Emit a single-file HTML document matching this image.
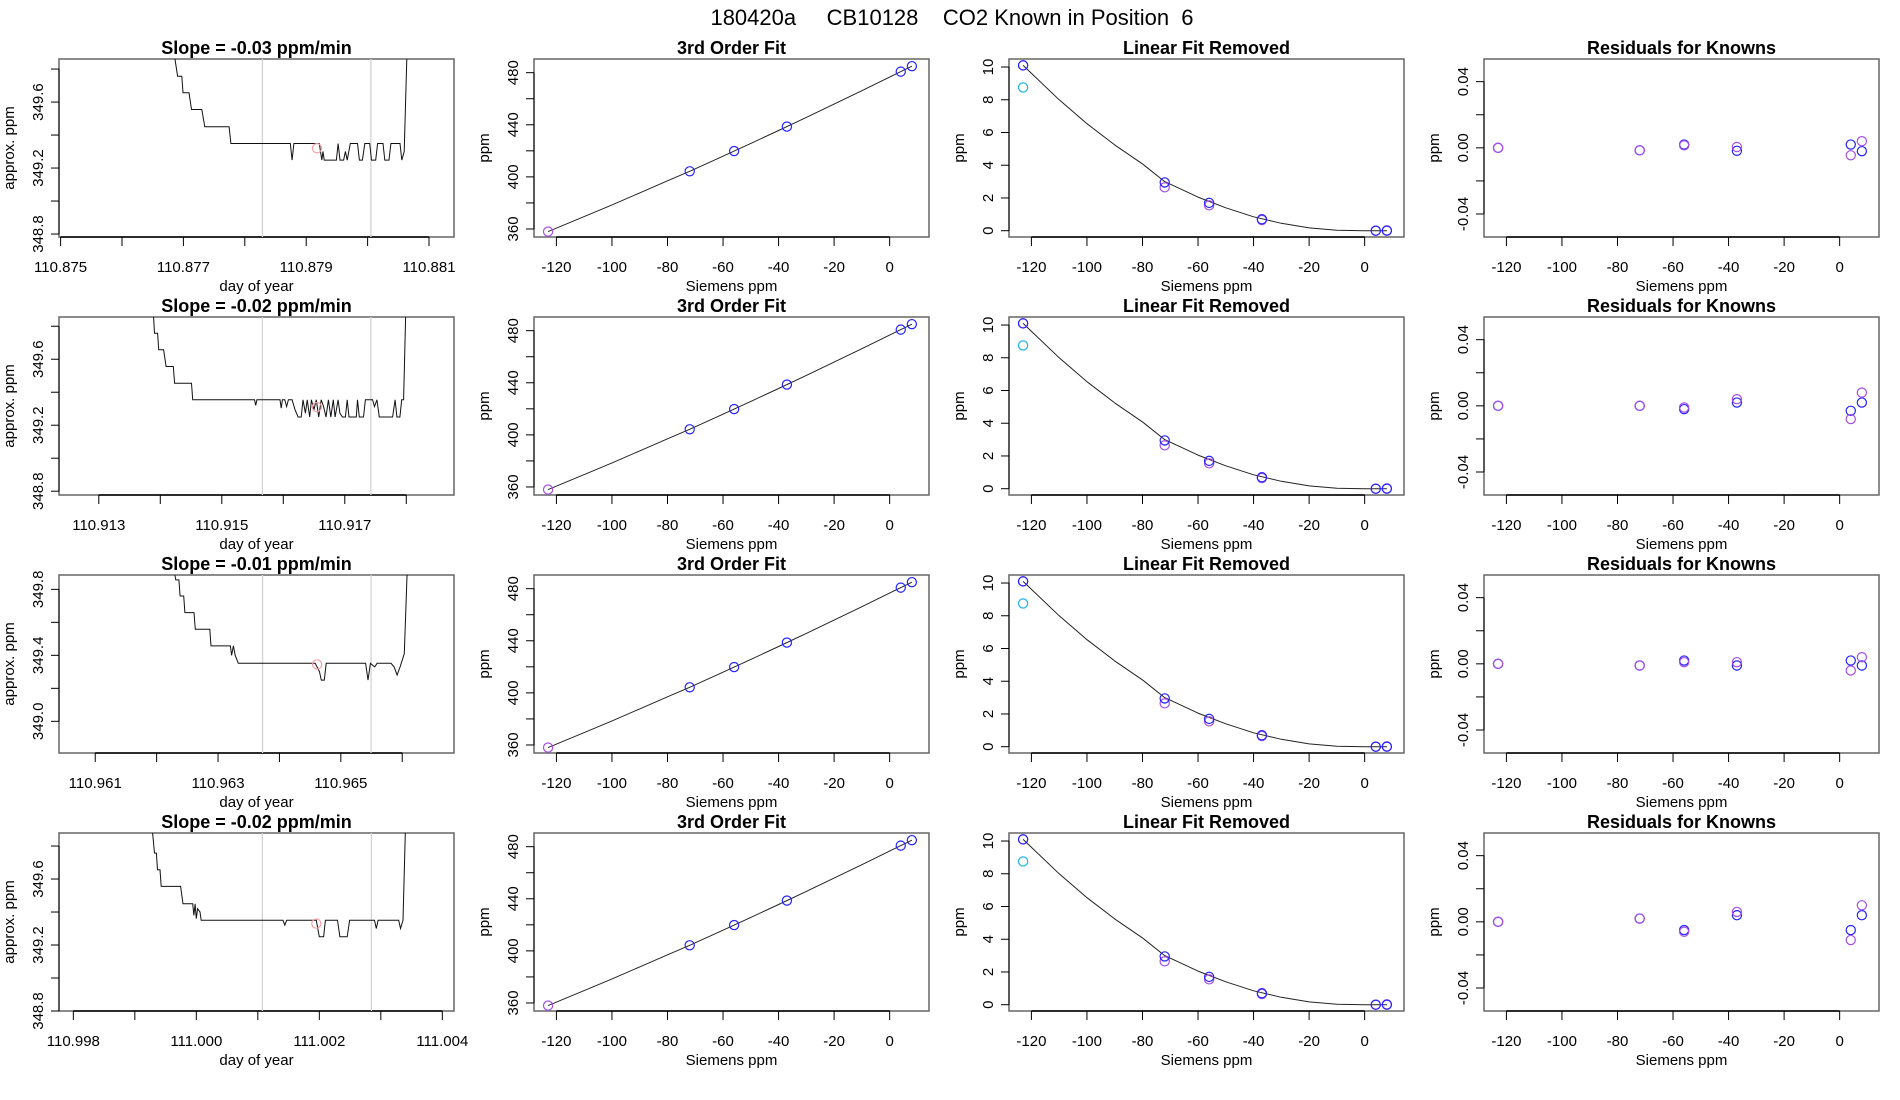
<!DOCTYPE html>
<html><head><meta charset="utf-8"><style>
html,body{margin:0;padding:0;background:#fff;}
svg{display:block;font-family:"Liberation Sans",sans-serif;}
</style></head><body>
<svg id="chart" width="1900" height="1100" viewBox="0 0 1900 1100" xmlns="http://www.w3.org/2000/svg">
<rect x="0" y="0" width="1900" height="1100" fill="#fff"/>
<text x="952" y="25" font-size="22" text-anchor="middle" style="white-space:pre" xml:space="preserve">180420a     CB10128    CO2 Known in Position  6</text>
</svg>
<script>
// ---- data ----
const rowSlopes = ["-0.03", "-0.02", "-0.01", "-0.02"];
const baseDays = [110.875, 110.913, 110.961, 110.998];
const xTickLabels = [
  ["110.875", "", "110.877", "", "110.879", "", "110.881"],
  ["110.913", "", "110.915", "", "110.917", ""],
  ["110.961", "", "110.963", "", "110.965", ""],
  ["110.998", "", "111.000", "", "111.002", "", "111.004"]
];
const yTickVals = [
  [348.8, 349.0, 349.2, 349.4, 349.6, 349.8],
  [348.8, 349.0, 349.2, 349.4, 349.6, 349.8],
  [349.0, 349.2, 349.4, 349.6, 349.8],
  [348.8, 349.0, 349.2, 349.4, 349.6, 349.8]
];
const yTickLabels = [
  ["348.8", "", "349.2", "", "349.6", ""],
  ["348.8", "", "349.2", "", "349.6", ""],
  ["349.0", "", "349.4", "", "349.8"],
  ["348.8", "", "349.2", "", "349.6", ""]
];
// trace time offsets (thousandths of a day after baseDays[row]) and values (ppm)
const traceT1 = [1.826,1.905,1.974,1.994,2.092,2.132,2.300,2.349,2.744,2.773,3.741,3.770,3.800,4.214,4.254,4.274,4.293,4.343,4.491,4.520,4.550,4.609,4.639,4.668,4.718,4.836,4.866,4.915,4.955,5.034,5.063,5.132,5.162,5.251,5.280,5.349,5.379,5.527,5.557,5.596,5.645];
const traceV1 = [349.95,349.757,349.757,349.656,349.656,349.555,349.555,349.45,349.45,349.349,349.349,349.248,349.349,349.349,349.248,349.30,349.248,349.248,349.248,349.349,349.248,349.248,349.30,349.248,349.349,349.349,349.248,349.248,349.349,349.349,349.248,349.248,349.349,349.349,349.248,349.248,349.349,349.349,349.248,349.30,349.95];
const traceT2 = [0.877,0.906,0.956,0.975,1.054,1.094,1.212,1.232,1.507,1.527,2.532,2.552,2.571,2.946,2.966,2.985,3.025,3.054,3.084,3.143,3.192,3.241,3.291,3.320,3.360,3.389,3.429,3.458,3.498,3.537,3.576,3.616,3.655,3.695,3.734,3.773,3.813,3.842,3.892,3.921,3.961,4.010,4.039,4.069,4.187,4.207,4.236,4.305,4.335,4.453,4.483,4.522,4.562,4.778,4.818,4.847,4.897,4.926,4.956,4.995];
const traceV2 = [349.95,349.758,349.758,349.657,349.657,349.556,349.556,349.455,349.455,349.354,349.354,349.32,349.354,349.354,349.303,349.354,349.354,349.313,349.354,349.354,349.293,349.25,349.25,349.354,349.273,349.354,349.25,349.354,349.293,349.354,349.25,349.354,349.313,349.25,349.354,349.25,349.354,349.25,349.354,349.273,349.25,349.25,349.354,349.25,349.25,349.354,349.25,349.25,349.354,349.354,349.313,349.354,349.25,349.25,349.354,349.25,349.25,349.354,349.354,349.95];
const traceT3 = [1.264,1.313,1.362,1.382,1.441,1.461,1.609,1.629,1.866,1.886,2.201,2.221,2.251,2.280,2.330,3.583,3.652,3.682,3.731,3.761,4.403,4.443,4.482,4.551,4.591,4.817,4.867,4.916,4.965,5.034,5.084];
const traceV3 = [349.95,349.857,349.857,349.76,349.76,349.659,349.659,349.558,349.558,349.457,349.457,349.40,349.457,349.40,349.352,349.352,349.30,349.25,349.25,349.352,349.352,349.25,349.352,349.33,349.352,349.352,349.33,349.28,349.33,349.41,349.95];
const traceT4 = [1.271,1.320,1.350,1.369,1.409,1.429,1.744,1.783,1.941,1.961,1.980,2.000,2.020,2.059,2.079,3.409,3.438,3.468,3.951,4.000,4.069,4.099,4.296,4.335,4.453,4.493,4.897,4.926,4.956,5.291,5.320,5.360,5.399];
const traceV4 = [349.95,349.757,349.757,349.656,349.656,349.555,349.555,349.45,349.45,349.38,349.45,349.36,349.42,349.40,349.35,349.35,349.32,349.35,349.35,349.25,349.25,349.35,349.35,349.25,349.25,349.35,349.35,349.30,349.35,349.35,349.30,349.35,349.9];
const grayLinesT = [[3.287, 5.053], [2.660, 4.424], [2.725, 4.492], [3.074, 4.847]];
const redPtT = [4.175, 3.547, 3.613, 3.951];
const redPtV = [349.32, 349.31, 349.345, 349.33];
// fit panels
const knownX = [-123, -72, -56, -37, 4, 8];
const knownPpm = [358.0, 404.3, 419.8, 438.6, 480.8, 485.0];
const curveX = [-123,-110,-100,-90,-80,-72,-60,-50,-40,-30,-20,-10,0,8];
const fitCurve = [358.0,369.5,378.51,387.68,396.98,404.28,415.89,425.7,435.62,445.69,455.87,466.2,476.63,485.0];
const linRemCurve = [10.1,8.0,6.54,5.24,4.08,3.0,2.05,1.4,0.85,0.45,0.17,0.03,0,0];
const linRemBlue = [10.1, 2.95, 1.7, 0.7, 0.0, 0.0];
const linRemPurple = [10.1, 2.65, 1.55, 0.65, 0.0, 0.02];
const linRemCyan = [8.75];
const residBlue = [
  [0, -0.0015, 0.002, -0.0018, 0.002, -0.002],
  [0, 0.0, -0.002, 0.002, -0.003, 0.002],
  [0, -0.001, 0.002, -0.001, 0.002, -0.001],
  [0, 0.002, -0.005, 0.004, -0.005, 0.004]
];
const residPurple = [
  [0, -0.0015, 0.0015, 0.0005, -0.0045, 0.004],
  [0, 0.0, -0.001, 0.004, -0.008, 0.008],
  [0, -0.001, 0.001, 0.001, -0.004, 0.004],
  [0, 0.002, -0.006, 0.006, -0.011, 0.010]
];
const sieTicks = [-120, -100, -80, -60, -40, -20, 0];
const ppmTicks = [360, 380, 400, 420, 440, 460, 480];
const ppmTickLabels = ["360", "", "400", "", "440", "", "480"];
const linTicks = [0, 2, 4, 6, 8, 10];
const resTicks = [-0.04, -0.02, 0.0, 0.02, 0.04];
const resTickLabels = ["-0.04", "", "0.00", "", "0.04"];

// ---- layout ----
const svg = document.getElementById('chart');
const NS = 'http://www.w3.org/2000/svg';
const rowTops = [59, 317, 575, 833];
const colLefts = [59, 534, 1009, 1484];
const PW = 395, PH = 178;
const xDomTS = [[-0.026, 6.407], [-0.647, 5.776], [-0.590, 5.843], [-0.233, 6.190]];
const yDomTS = [[348.782, 349.861], [348.777, 349.856], [348.808, 349.887], [348.80, 349.879]];
const traceT = [traceT1, traceT2, traceT3, traceT4];
const traceV = [traceV1, traceV2, traceV3, traceV4];
const BLUE = '#2222ff', PURPLE = '#a64ee8', CYAN = '#1eb4ee';

function el(tag, attrs, parent) {
  const e = document.createElementNS(NS, tag);
  for (const k in attrs) e.setAttribute(k, attrs[k]);
  (parent || svg).appendChild(e);
  return e;
}
function scale(d0, d1, r0, r1) { return v => r0 + (v - d0) / (d1 - d0) * (r1 - r0); }

function txt(x, y, s, size, parent, opts) {
  const t = el('text', Object.assign({x: x, y: y, 'font-size': size, 'text-anchor': 'middle'}, opts || {}), parent);
  t.textContent = s;
  return t;
}

function panel(r, c, title, xlab, ylab) {
  const g = el('g', {});
  
  
  const L = colLefts[c], T = rowTops[r];
  const cp = el('clipPath', {id: 'cp' + r + c}, g);
  el('rect', {x: L, y: T, width: PW, height: PH}, cp);
  const box = el('rect', {x: L, y: T, width: PW, height: PH, fill: 'none', stroke: '#666', 'stroke-width': 1.5}, g);
  
  
  const tt = txt(L + PW / 2, T - 5, title, 18, g, {'font-weight': 'bold'});
  
  
  const xl = txt(L + PW / 2, T + PH + 54, xlab, 15, g);
  
  
  const yl = txt(0, 0, ylab, 15, g, {transform: 'translate(' + (L - 45) + ',' + (T + PH / 2) + ') rotate(-90)'});
  
  
  return {g: g, L: L, T: T, clip: 'url(#cp' + r + c + ')'};
}

function xAxis(p, ticks, labels, sx) {
  const g = el('g', {}, p.g);
  
  
  const y = p.T + PH;
  el('line', {x1: sx(ticks[0]), x2: sx(ticks[ticks.length - 1]), y1: y, y2: y, stroke: '#000', 'stroke-width': 1.5}, g);
  ticks.forEach((v, i) => {
    const x = sx(v);
    el('line', {x1: x, x2: x, y1: y, y2: y + 9, stroke: '#000', 'stroke-width': 1}, g);
    if (labels[i]) {
      const t = txt(x, y + 35, labels[i], 15, g);
      
      
    }
  });
}
function yAxis(p, ticks, labels, sy) {
  const g = el('g', {}, p.g);
  
  
  const x = p.L;
  el('line', {x1: x, x2: x, y1: sy(ticks[0]), y2: sy(ticks[ticks.length - 1]), stroke: '#000', 'stroke-width': 1}, g);
  ticks.forEach((v, i) => {
    const y = sy(v);
    el('line', {x1: x - 8, x2: x, y1: y, y2: y, stroke: '#000', 'stroke-width': 1}, g);
    if (labels[i]) {
      const t = txt(0, 0, labels[i], 15, g, {transform: 'translate(' + (x - 16) + ',' + y + ') rotate(-90)'});
      
      
    }
  });
}
function circle(parent, x, y, col, name) {
  const c = el('circle', {cx: x, cy: y, r: 4.6, fill: 'none', stroke: col, 'stroke-width': 1.2}, parent);
  
  
}

for (let r = 0; r < 4; r++) {
  // time series panel
  let p = panel(r, 0, 'Slope =  ' + rowSlopes[r] + '  ppm/min', 'day of year', 'approx. ppm');
  let sx = scale(xDomTS[r][0], xDomTS[r][1], p.L, p.L + PW);
  let sy = scale(yDomTS[r][0], yDomTS[r][1], p.T + PH, p.T);
  xAxis(p, xTickLabels[r].map((_, i) => i), xTickLabels[r], sx);
  yAxis(p, yTickVals[r], yTickLabels[r], sy);
  grayLinesT[r].forEach(t => {
    const gl = el('line', {x1: sx(t), x2: sx(t), y1: p.T, y2: p.T + PH, stroke: '#d4d4d4', 'stroke-width': 1.3}, p.g);
    
    
  });
  const pts = traceT[r].map((t, i) => sx(t).toFixed(1) + ',' + sy(traceV[r][i]).toFixed(1)).join(' ');
  const pl = el('polyline', {points: pts, fill: 'none', stroke: '#111', 'stroke-width': 1, 'clip-path': p.clip}, p.g);
  
  
  circle(p.g, sx(redPtT[r]), sy(redPtV[r]), '#f4a0a8', 'mean-point');

  // 3rd order fit
  p = panel(r, 1, '3rd Order Fit', 'Siemens ppm', 'ppm');
  sx = scale(-128.07, 14.17, p.L, p.L + PW);
  sy = scale(353.84, 490.5, p.T + PH, p.T);
  xAxis(p, sieTicks, sieTicks.map(String), sx);
  yAxis(p, ppmTicks, ppmTickLabels, sy);
  let fl = el('polyline', {points: curveX.map((x, i) => sx(x).toFixed(1) + ',' + sy(fitCurve[i]).toFixed(1)).join(' '), fill: 'none', stroke: '#222', 'stroke-width': 1}, p.g);
  
  
  knownX.forEach((x, i) => circle(p.g, sx(x), sy(knownPpm[i]), i === 0 ? PURPLE : BLUE, 'known-point'));

  // linear fit removed
  p = panel(r, 2, 'Linear Fit Removed', 'Siemens ppm', 'ppm');
  sy = scale(-0.385, 10.49, p.T + PH, p.T);
  sx = scale(-128.07, 14.17, p.L, p.L + PW);
  xAxis(p, sieTicks, sieTicks.map(String), sx);
  yAxis(p, linTicks, linTicks.map(String), sy);
  fl = el('polyline', {points: curveX.map((x, i) => sx(x).toFixed(1) + ',' + sy(linRemCurve[i]).toFixed(1)).join(' '), fill: 'none', stroke: '#222', 'stroke-width': 1, 'stroke-linejoin': 'round'}, p.g);
  
  
  knownX.forEach((x, i) => circle(p.g, sx(x), sy(linRemPurple[i]), PURPLE, 'purple-point'));
  knownX.forEach((x, i) => circle(p.g, sx(x), sy(linRemBlue[i]), BLUE, 'blue-point'));
  linRemCyan.forEach(v => circle(p.g, sx(knownX[0]), sy(v), CYAN, 'cyan-point'));

  // residuals
  p = panel(r, 3, 'Residuals for Knowns', 'Siemens ppm', 'ppm');
  sy = scale(-0.0539, 0.0537, p.T + PH, p.T);
  xAxis(p, sieTicks, sieTicks.map(String), sx = scale(-128.07, 14.17, p.L, p.L + PW));
  yAxis(p, resTicks, resTickLabels, sy);
  knownX.forEach((x, i) => circle(p.g, sx(x), sy(residBlue[r][i]), BLUE, 'blue-residual'));
  knownX.forEach((x, i) => circle(p.g, sx(x), sy(residPurple[r][i]), PURPLE, 'purple-residual'));
}
</script>
</body></html>
